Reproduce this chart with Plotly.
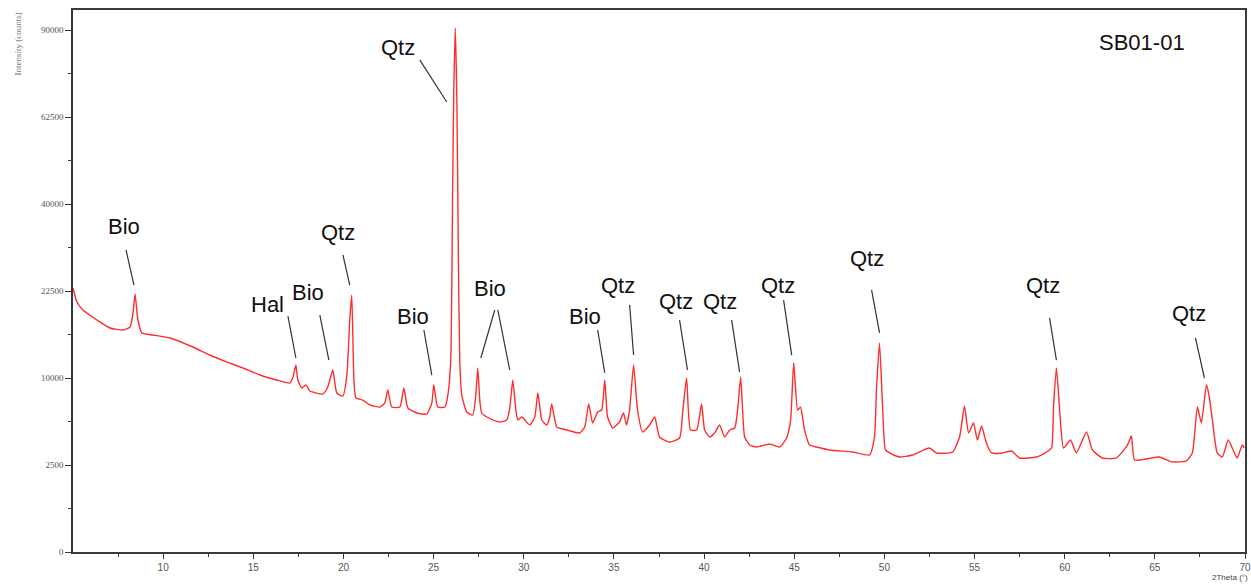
import numpy as np
import plotly.graph_objects as go

# ---------------- data ----------------
two_theta = [
    5.00, 5.22, 5.55, 6.33, 7.05, 7.77, 8.16, 8.33, 8.44, 8.60,
    8.82, 9.43, 10.38, 11.65, 12.59, 13.54, 14.42, 15.37, 16.31, 17.03,
    17.20, 17.36, 17.47, 17.69, 17.92, 18.14, 18.86, 19.13, 19.41, 19.63,
    19.97, 20.19, 20.35, 20.46, 20.58, 20.69, 21.07, 21.46, 22.02, 22.29,
    22.46, 22.68, 23.13, 23.35, 23.57, 24.07, 24.62, 24.90, 25.01, 25.23,
    25.62, 25.79, 25.95, 26.06, 26.12, 26.20, 26.29, 26.37, 26.45, 26.56,
    26.84, 27.17, 27.34, 27.45, 27.56, 27.67, 27.95, 28.28, 28.67, 29.06,
    29.23, 29.39, 29.56, 29.67, 29.89, 30.33, 30.61, 30.78, 31.00, 31.27,
    31.44, 31.55, 31.83, 32.38, 33.10, 33.38, 33.60, 33.82, 34.10, 34.32,
    34.49, 34.65, 34.93, 35.31, 35.53, 35.70, 35.87, 36.09, 36.31, 36.59,
    36.98, 37.26, 37.53, 38.09, 38.64, 38.81, 39.03, 39.25, 39.59, 39.86,
    40.03, 40.31, 40.59, 40.86, 41.14, 41.42, 41.70, 41.86, 42.03, 42.25,
    42.53, 42.91, 43.63, 44.19, 44.58, 44.80, 44.97, 45.19, 45.35, 45.57,
    45.85, 46.24, 46.96, 48.23, 49.18, 49.45, 49.56, 49.73, 49.90, 50.06,
    50.29, 50.84, 51.56, 52.50, 52.89, 53.78, 54.17, 54.44, 54.67, 54.94,
    55.16, 55.39, 55.66, 55.94, 56.55, 57.05, 57.49, 58.43, 58.99, 59.27,
    59.38, 59.54, 59.76, 59.93, 60.32, 60.65, 61.21, 61.54, 62.09, 62.87,
    63.48, 63.70, 63.87, 64.53, 65.25, 65.97, 66.75, 67.08, 67.36, 67.58,
    67.86, 68.02, 68.19, 68.46, 68.74, 69.07, 69.41, 69.57, 69.85, 69.96,
]

intensity_counts = [
    23020, 20640, 19340, 17780, 16570, 16280, 16720, 18870, 21990, 17780,
    15840, 15550, 15130, 13880, 12820, 11920, 11180, 10350, 9770, 9430,
    10120, 11550, 9770, 8880, 9210, 8560, 8250, 8990, 10940, 8350,
    8040, 10350, 17780, 21820, 9770, 7830, 7630, 7140, 6940, 7330,
    8670, 6940, 6940, 8880, 6850, 6380, 6290, 7330, 9210, 6940,
    6940, 8140, 12180, 45710, 70500, 90690, 67480, 30120, 12180, 8140,
    6470, 6200, 8140, 11180, 7630, 6380, 6020, 5760, 5580, 5760,
    6940, 9770, 6660, 5760, 6020, 5330, 6020, 8350, 5760, 5330,
    6020, 7240, 5160, 4920, 4680, 5160, 7240, 5500, 6470, 6660,
    9770, 6020, 5080, 5580, 6380, 5330, 6660, 11550, 6660, 4760,
    5330, 6020, 4370, 4000, 4290, 6380, 10000, 4920, 4920, 7240,
    4920, 4370, 4680, 5330, 4370, 4920, 5080, 6660, 10120, 4370,
    3780, 3640, 3850, 3640, 4290, 5760, 11800, 6660, 6940, 4920,
    3780, 3640, 3440, 3300, 3110, 4370, 8670, 14430, 6940, 3440,
    3240, 2980, 3110, 3570, 3240, 3300, 4370, 7040, 4680, 5500,
    4140, 5240, 3920, 3240, 3240, 3370, 2920, 2980, 3300, 3570,
    6940, 11180, 5760, 3570, 4140, 3240, 4760, 3440, 2920, 2920,
    3780, 4440, 2800, 2860, 2980, 2680, 2740, 3240, 6940, 5500,
    9210, 7940, 5760, 3240, 2980, 4140, 3240, 2920, 3780, 3570,
]

y_tick_counts = [0, 2500, 10000, 22500, 40000, 62500, 90000]
y_tick_labels = ["0", "2500", "10000", "22500", "40000", "62500", "90000"]
x_tick_values = [10, 15, 20, 25, 30, 35, 40, 45, 50, 55, 60, 65, 70]
x_tick_labels = ["10", "15", "20", "25", "30", "35", "40", "45", "50", "55", "60", "65", "70"]
x_minor_values = [7.5, 12.5, 17.5, 22.5, 27.5, 32.5, 37.5, 42.5, 47.5, 52.5, 57.5, 62.5, 67.5]

sample_name = "SB01-01"
phase_labels = ["Bio", "Hal", "Bio", "Qtz", "Bio", "Qtz", "Bio", "Bio",
                "Qtz", "Qtz", "Qtz", "Qtz", "Qtz", "Qtz", "Qtz"]

# ---------------- layout of labels (2theta, sqrt-intensity units) ----------------
label_pos = [
    (7.83, 186.8), (15.81, 142.5), (18.03, 149.4), (19.69, 183.9), (23.85, 135.6),
    (23.01, 290.2), (28.11, 151.7), (33.38, 135.6), (35.21, 153.4), (38.42, 143.7),
    (40.86, 143.7), (44.08, 153.4), (49.01, 168.4), (58.77, 153.4), (66.92, 136.8),
]
leader_lines = [
    (7.94, 173.6, 8.38, 153.4),
    (16.92, 135.6, 17.36, 111.5),
    (18.69, 136.2, 19.19, 110.3),
    (19.97, 170.7, 20.35, 153.4),
    (24.46, 127.6, 24.90, 101.7),
    (24.23, 282.8, 25.73, 258.6),
    (28.39, 139.1, 27.62, 111.5),
    (28.56, 139.1, 29.22, 104.6),
    (34.10, 127.6, 34.49, 102.9),
    (35.87, 142.0, 36.09, 113.2),
    (38.64, 133.3, 39.08, 104.6),
    (41.53, 133.3, 41.97, 103.4),
    (44.41, 144.8, 44.86, 113.2),
    (49.29, 150.6, 49.73, 125.9),
    (59.16, 134.5, 59.54, 110.3),
    (67.25, 123.0, 67.75, 100.0),
]

# ---------------- figure ----------------
y_sqrt = np.sqrt(np.array(intensity_counts, dtype=float))
tick_sqrt = np.sqrt(np.array(y_tick_counts, dtype=float))
minor_sqrt = (tick_sqrt[:-1] + tick_sqrt[1:]) / 2.0

fig = go.Figure()
fig.add_trace(go.Scatter(
    x=two_theta, y=y_sqrt, mode="lines",
    line=dict(color="rgb(255,45,45)", width=1.4, shape="spline", smoothing=0.5),
    hoverinfo="skip", showlegend=False,
))

axis_color = "#3a3a3a"
fig.update_layout(
    width=1251, height=584,
    margin=dict(l=73, r=6, t=10, b=32, autoexpand=False),
    paper_bgcolor="white", plot_bgcolor="white",
    showlegend=False,
    xaxis=dict(
        range=[5, 70], showgrid=False, zeroline=False, automargin=False,
        showline=True, linecolor=axis_color, linewidth=1.5, mirror=True,
        tickmode="array", tickvals=x_tick_values, ticktext=x_tick_labels,
        ticks="outside", ticklen=5, tickwidth=1.2, tickcolor=axis_color,
        tickfont=dict(family="Liberation Sans Narrow, Liberation Sans, Arial", size=10, color="#555"),
        minor=dict(tickmode="array", tickvals=x_minor_values, ticks="outside",
                   ticklen=3, tickwidth=1.2, tickcolor=axis_color, showgrid=False),
    ),
    yaxis=dict(
        range=[0, 311.5], showgrid=False, zeroline=False, automargin=False,
        showline=True, linecolor=axis_color, linewidth=1.5, mirror=True,
        tickmode="array", tickvals=list(tick_sqrt), ticktext=y_tick_labels,
        ticks="outside", ticklen=6, tickwidth=1.2, tickcolor=axis_color,
        tickfont=dict(family="Liberation Serif, Times New Roman, serif", size=9, color="#555"),
        minor=dict(tickmode="array", tickvals=list(minor_sqrt), ticks="outside",
                   ticklen=3, tickwidth=1.2, tickcolor=axis_color, showgrid=False),
    ),
)

label_font = dict(family="Liberation Sans, Arial, sans-serif", size=22, color="#111")
annotations = []
for text, (lx, ly) in zip(phase_labels, label_pos):
    annotations.append(dict(x=lx, y=ly, xref="x", yref="y", text=text, showarrow=False,
                            xanchor="center", yanchor="middle", font=label_font))
annotations.append(dict(x=0.912, y=0.94, xref="paper", yref="paper", text=sample_name,
                        showarrow=False, xanchor="center", yanchor="middle", font=label_font))
annotations.append(dict(x=-0.047, y=1.0, xref="paper", yref="paper", text="Intensity (counts)",
                        textangle=-90, showarrow=False, xanchor="center", yanchor="top",
                        font=dict(family="Liberation Serif, Times New Roman, serif", size=9, color="#777")))
annotations.append(dict(x=1.004, y=-0.0475, xref="paper", yref="paper", text="2Theta (°)",
                        showarrow=False, xanchor="right", yanchor="middle",
                        font=dict(family="Liberation Sans Narrow, Liberation Sans, Arial", size=8, color="#444")))
fig.update_layout(annotations=annotations)

shapes = []
for x0, y0, x1, y1 in leader_lines:
    shapes.append(dict(type="line", xref="x", yref="y", x0=x0, y0=y0, x1=x1, y1=y1,
                       line=dict(color="#333", width=1.2)))
fig.update_layout(shapes=shapes)

fig.write_html("out.html")
